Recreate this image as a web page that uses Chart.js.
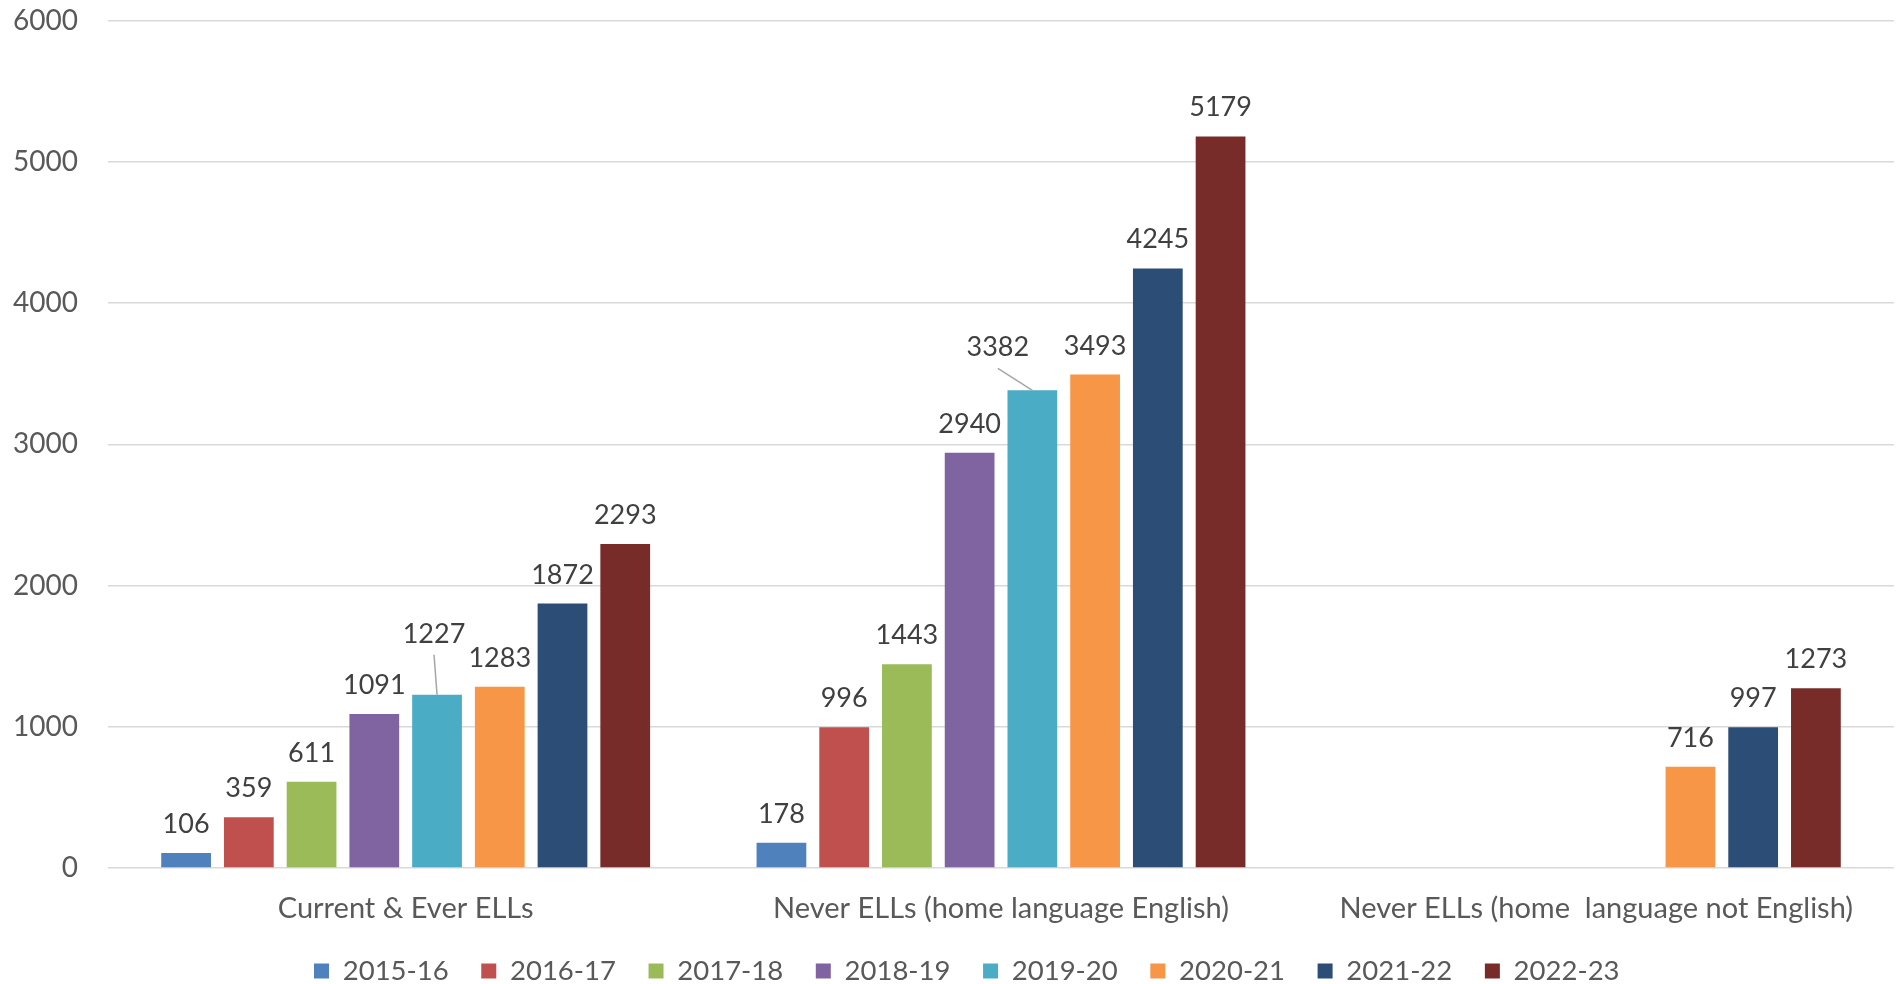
<!DOCTYPE html>
<html>
<head>
<meta charset="utf-8">
<script src="https://cdn.jsdelivr.net/npm/chart.js@4.4.1/dist/chart.umd.min.js"></script>
<style>
  html, body { margin: 0; padding: 0; background: #ffffff; }
  canvas { display: block; }
</style>
</head>
<body>
<canvas id="chart" width="1898" height="984"></canvas>
<script>
// ---- Data ----
const categories = ["Current & Ever ELLs", "Never ELLs (home language English)", "Never ELLs (home  language not English)"];
const seriesNames = ["2015-16", "2016-17", "2017-18", "2018-19", "2019-20", "2020-21", "2021-22", "2022-23"];
const values2015_16 = [106, 178, null];
const values2016_17 = [359, 996, null];
const values2017_18 = [611, 1443, null];
const values2018_19 = [1091, 2940, null];
const values2019_20 = [1227, 3382, null];
const values2020_21 = [1283, 3493, 716];
const values2021_22 = [1872, 4245, 997];
const values2022_23 = [2293, 5179, 1273];
const yTickValues = [0, 1000, 2000, 3000, 4000, 5000, 6000];

// ---- Styles ----
const seriesColors = ["#4F81BD", "#C0504D", "#9BBB59", "#8064A2", "#4BACC6", "#F79646", "#2C4D75", "#772C2A"];
const allSeries = [values2015_16, values2016_17, values2017_18, values2018_19, values2019_20, values2020_21, values2021_22, values2022_23];
// labels moved off their bar (with a leader line), as in the original
const movedLabels = [
  { series: 4, category: 0, dx: -3, dy: -32 },
  { series: 4, category: 1, dx: -34.5, dy: -14 }
];
const FONT = "Lato";
const LEGEND_FONT = 27.5;
const LEGEND_PAD = 32.6;
const X_AXIS_H = 64;
const PLOT_BOTTOM = 868;
const legendH = LEGEND_FONT + LEGEND_PAD + 10;
const bottomPad = 984 - PLOT_BOTTOM - legendH - X_AXIS_H;

const valueLabels = {
  id: "valueLabels",
  afterDatasetsDraw(chart) {
    const ctx = chart.ctx;
    ctx.save();
    ctx.font = "27px " + FONT;
    ctx.fillStyle = "#404040";
    ctx.textAlign = "center";
    ctx.textBaseline = "alphabetic";
    chart.data.datasets.forEach((ds, si) => {
      const meta = chart.getDatasetMeta(si);
      meta.data.forEach((el, ci) => {
        const v = ds.data[ci];
        if (v === null || v === undefined) return;
        let x = el.x, y = el.y - 20;
        const mv = movedLabels.find(m => m.series === si && m.category === ci);
        if (mv) {
          x += mv.dx; y += mv.dy;
          ctx.save();
          ctx.strokeStyle = "#A6A6A6";
          ctx.lineWidth = 1.5;
          ctx.beginPath();
          ctx.moveTo(x, y + 12);
          ctx.lineTo(el.x, el.y);
          ctx.stroke();
          ctx.restore();
        }
        ctx.fillText(String(v), x, y);
      });
    });
    ctx.restore();
  }
};

const legendPlace = {
  id: "legendPlace",
  afterLayout(chart) {
    const lg = chart.legend;
    if (!lg || !lg.lineWidths) return;
    const pad = lg.options.labels.padding;
    const x0 = (lg.left + pad + lg.right - lg.lineWidths[0]) / 2;
    const dx = 314 - x0;
    const fs = lg.options.labels.font.size;
    const ih = Math.max(fs, lg.options.labels.boxHeight);
    const dy = (971 - pad - ih / 2) - lg.top;
    lg.left += dx; lg.right += dx;
    lg.top += dy; lg.bottom += dy;
  }
};

function build() {
  new Chart(document.getElementById("chart"), {
    type: "bar",
    data: {
      labels: categories,
      datasets: allSeries.map((vals, i) => ({
        label: seriesNames[i],
        data: vals,
        backgroundColor: seriesColors[i],
        borderWidth: 0,
        categoryPercentage: 0.843,
        barPercentage: 0.793
      }))
    },
    options: {
      responsive: false,
      animation: false,
      events: [],
      layout: { padding: { left: 0, right: 4, top: 20.5, bottom: bottomPad } },
      plugins: {
        tooltip: { enabled: false },
        legend: {
          position: "bottom",
          align: "center",
          labels: {
            font: { family: FONT, size: LEGEND_FONT },
            color: "#595959",
            boxWidth: 15,
            boxHeight: 15,
            padding: LEGEND_PAD
          }
        }
      },
      scales: {
        x: {
          grid: { display: false, drawTicks: false },
          border: { display: false },
          ticks: {
            font: { family: FONT, size: 29 },
            color: "#595959",
            padding: 23.5,
            maxRotation: 0,
            autoSkip: false
          },
          afterFit(scale) { scale.height = X_AXIS_H; }
        },
        y: {
          min: yTickValues[0],
          max: yTickValues[yTickValues.length - 1],
          afterBuildTicks(scale) { scale.ticks = yTickValues.map(v => ({ value: v })); },
          grid: { color: "#D9D9D9", lineWidth: 1.5, drawTicks: true, tickLength: 30, tickColor: "rgba(0,0,0,0)" },
          border: { display: false },
          ticks: {
            font: { family: FONT, size: 28 },
            color: "#595959",
            padding: 0,
            callback: (v) => String(v)
          },
          afterFit(scale) { scale.width = 108; }
        }
      }
    },
    plugins: [valueLabels, legendPlace]
  });
}

if (document.fonts && document.fonts.load) {
  document.fonts.load("28px " + FONT).then(build, build);
} else {
  build();
}
</script>
</body>
</html>
